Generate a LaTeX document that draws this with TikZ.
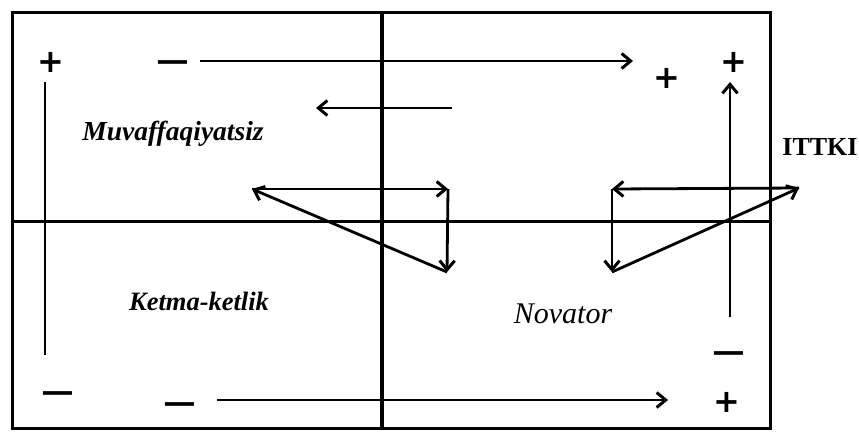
\documentclass[tikz,border=0pt]{standalone}
\usepackage{fontspec}
\usepackage{graphicx}
\setmainfont{Liberation Serif}
\newfontfamily\signfont{DejaVu Sans}
\newcommand{\wideminus}{\scalebox{1.45}[1]{−}}
\usetikzlibrary{arrows.meta}
\tikzset{
  frame/.style={line width=3pt},
  midline/.style={line width=3.6pt},
  arr/.style={line width=2.8pt,-{Straight Barb[length=9pt,width=15pt,line width=3pt]}},
  plainline/.style={line width=2.8pt},
  plussign/.style={inner sep=0pt,font=\signfont\fontsize{32}{34}\selectfont\bfseries},
  minussign/.style={inner sep=0pt,yshift=-5pt,font=\signfont\fontsize{32}{34}\selectfont\bfseries},
  lbl/.style={inner sep=0pt,anchor=base,font=\fontsize{27.5}{30}\selectfont\bfseries\itshape},
  lblr/.style={inner sep=0pt,anchor=base,font=\fontsize{30}{32}\selectfont\itshape},
}
\begin{document}
\begin{tikzpicture}[x=1pt,y=-1pt]
\useasboundingbox (0,0) rectangle (859,431);
% frame
\draw[frame] (12,12) rectangle (770,428);
\draw[midline] (382,12) -- (382,428);
\draw[frame] (12,221) -- (770,221);
% labels
\node[lbl] (muv) at (173,140) {Muvaffaqiyatsiz};
\node[lbl,font=\fontsize{26.5}{30}\selectfont\bfseries\itshape] (ket) at (199,310) {Ketma-ketlik};
\node[lblr] (nov) at (563,323) {Novator};
\node[inner sep=0pt,anchor=base,font=\fontsize{26}{30}\selectfont\bfseries] (itt) at (820,155) {ITTKI};
% signs
\node[plussign] (p1) at (51,62) {+};
\node[minussign] (m1) at (173,62) {\wideminus};
\node[plussign] (p2) at (667,78) {+};
\node[plussign] (p3) at (734,62) {+};
\node[minussign] (m2) at (729,353) {\wideminus};
\node[plussign] (p4) at (727,402) {+};
\node[minussign] (m3) at (58,393) {\wideminus};
\node[minussign] (m4) at (180,404) {\wideminus};
% connector ends
\coordinate (ta) at (200,61);
\coordinate (tb) at (633,61);
\coordinate (ba) at (217,400);
\coordinate (bb) at (668,400);
\coordinate (va) at (730,317);
\coordinate (vb) at (730,82);
\coordinate (la) at (45,82);
\coordinate (lb) at (45,355);
\coordinate (ma) at (452,108);
\coordinate (mb) at (316,108);
% left triangle
\coordinate (L1) at (252,189);
\coordinate (L2) at (448,189);
\coordinate (L3) at (447,272);
% right triangle
\coordinate (R1) at (612,189);
\coordinate (R2) at (799,188);
\coordinate (R3) at (612,272);
% connectors
\draw[arr] (ta) -- (tb);
\draw[arr] (ba) -- (bb);
\draw[arr] (va) -- (vb);
\draw[plainline] (la) -- (lb);
\draw[arr] (ma) -- (mb);
\draw[arr] (L1) -- (L2);
\draw[arr] (L2) -- (L3);
\draw[arr] (L3) -- (L1);
\draw[arr] (R2) -- (R1);
\draw[arr] (R1) -- (R3);
\draw[arr] (R3) -- (R2);
\end{tikzpicture}
\end{document}
